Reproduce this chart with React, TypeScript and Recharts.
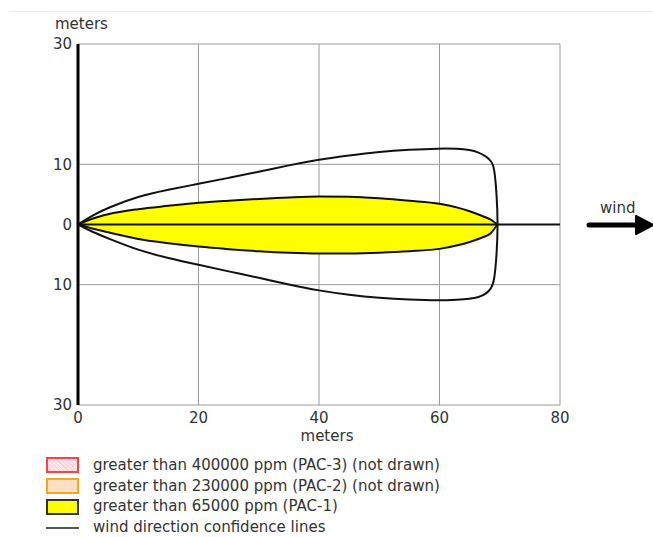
import { ComposedChart, Area, Line, XAxis, YAxis, CartesianGrid, ReferenceLine } from "recharts"

const X_TICKS = [0, 20, 40, 60, 80]
const Y_TICKS = [-30, -10, 0, 10, 30]

// PAC-1 footprint (meters), sampled downwind
const plumeX = [0, 2.5, 5, 10, 15, 20, 25, 30, 35, 40, 45, 50, 55, 60, 63, 65, 67, 68.5, 69.6]
const plumeUpper = [0, 1.0, 1.7, 2.55, 3.1, 3.6, 3.95, 4.25, 4.5, 4.65, 4.6, 4.35, 3.95, 3.45, 2.8, 2.2, 1.45, 0.8, 0]
const plumeLower = [0, -0.7, -1.3, -2.4, -3.1, -3.67, -4.1, -4.45, -4.7, -4.82, -4.8, -4.68, -4.45, -4.05, -3.45, -2.9, -2.2, -1.45, 0]

// wind direction confidence line, traced from the source round the far end and back
const confX = [0, 2.5, 5, 10, 15, 20, 25, 30, 35, 40, 45, 50, 55, 60, 63, 65, 66.5, 67.8, 68.6, 69.1, 69.5, 69.7,
  69.5, 69.1, 68.6, 67.8, 66.5, 65, 63, 60, 55, 50, 45, 40, 35, 30, 25, 20, 15, 10, 5, 2.5, 0]
const confY = [0, 1.6, 2.8, 4.7, 5.8, 6.75, 7.75, 8.75, 9.85, 10.8, 11.5, 12.1, 12.45, 12.65, 12.6, 12.4, 12.0, 11.3, 10.5, 9.5, 5, 0,
  -5, -9.4, -10.6, -11.5, -12.1, -12.35, -12.5, -12.65, -12.5, -12.2, -11.7, -11.0, -10.0, -8.85, -7.8, -6.7, -5.6, -4.3, -2.3, -1.3, 0]

const legendLabels = [
  "greater than 400000 ppm (PAC-3) (not drawn)",
  "greater than 230000 ppm (PAC-2) (not drawn)",
  "greater than 65000 ppm (PAC-1)",
  "wind direction confidence lines",
]

const plumeData = plumeX.map((x, i) => ({ x, range: [plumeLower[i], plumeUpper[i]] }))
const confData = confX.map((x, i) => ({ x, y: confY[i] }))

const FONT = "'DejaVu Sans', Verdana, sans-serif"
const TEXT = "#333"

const swatchStyles: React.CSSProperties[] = [
  { border: "2px solid #ee4650", background: "repeating-linear-gradient(45deg, #fde4e6 0 2px, #f9cfd3 2px 3px)" },
  { border: "2px solid #f6a623", background: "#fde0c2" },
  { border: "2px solid #333", background: "#ffff00" },
]

function Legend() {
  return (
    <div style={{ position: "absolute", left: 46, top: 455, fontFamily: FONT, fontSize: 15, lineHeight: "15px", color: TEXT }}>
      {legendLabels.map((label, i) => (
        <div key={label} style={{ display: "flex", alignItems: "center", height: 20.8 }}>
          {i < 3 ? (
            <span style={{ width: 29, height: 12, boxSizing: "content-box", ...swatchStyles[i] }} />
          ) : (
            <span style={{ width: 33, height: 2, background: "#555" }} />
          )}
          <span style={{ marginLeft: 14, whiteSpace: "nowrap" }}>{label}</span>
        </div>
      ))}
    </div>
  )
}

function WindArrow() {
  return (
    <div style={{ position: "absolute", left: 580, top: 195, width: 73, height: 45 }}>
      <div style={{ position: "absolute", left: 20, top: 4, fontFamily: FONT, fontSize: 15, color: TEXT }}>wind</div>
      <svg width={73} height={45} style={{ position: "absolute", left: 0, top: 0 }}>
        <line x1={9} y1={30} x2={60} y2={30} stroke="#000" strokeWidth={5} strokeLinecap="round" />
        <polygon points="56,21 73,30 56,39" fill="#000" stroke="#000" strokeWidth={2} strokeLinejoin="round" />
      </svg>
    </div>
  )
}

export default function App() {
  return (
    <div style={{ position: "absolute", left: 0, top: 0, width: 653, height: 537, background: "#fff", overflow: "hidden" }}>
      <div style={{ position: "absolute", left: 10, top: 11, right: 0, height: 1, background: "#ececec" }} />
      <div style={{ position: "absolute", left: 55, top: 15, fontFamily: FONT, fontSize: 15, color: TEXT }}>meters</div>
      <ComposedChart
        width={600}
        height={450}
        data={plumeData}
        margin={{ top: 44, right: 40, bottom: 9, left: 20 }}
        style={{ position: "absolute", left: 0, top: 0, fontFamily: FONT }}
      >
        <CartesianGrid stroke="#9a9a9a" strokeWidth={1} />
        <XAxis
          dataKey="x"
          type="number"
          domain={[0, 80]}
          ticks={X_TICKS}
          allowDataOverflow
          axisLine={false}
          tickLine={false}
          tickSize={4}
          tickMargin={3}
          height={36}
          tick={{ fill: TEXT, fontSize: 15 }}
          label={{ value: "meters", position: "insideBottom", offset: 0, dx: 8, fill: TEXT, fontSize: 15 }}
        />
        <YAxis
          type="number"
          domain={[-30, 30]}
          ticks={Y_TICKS}
          allowDataOverflow
          width={58}
          axisLine={{ stroke: "#000", strokeWidth: 3 }}
          tickLine={false}
          tickSize={4}
          tickMargin={2}
          tick={{ fill: TEXT, fontSize: 15 }}
          tickFormatter={(v: number) => String(Math.abs(v))}
        />
        <Area
          dataKey="range"
          type="monotone"
          stroke="#111"
          strokeWidth={2}
          fill="#ffff00"
          fillOpacity={1}
          dot={false}
          activeDot={false}
          isAnimationActive={false}
        />
        <ReferenceLine y={0} stroke="#111" strokeWidth={2} />
        <Line
          data={confData}
          dataKey="y"
          type="basis"
          stroke="#111"
          strokeWidth={2}
          dot={false}
          activeDot={false}
          isAnimationActive={false}
        />
      </ComposedChart>
      <WindArrow />
      <Legend />
    </div>
  )
}
